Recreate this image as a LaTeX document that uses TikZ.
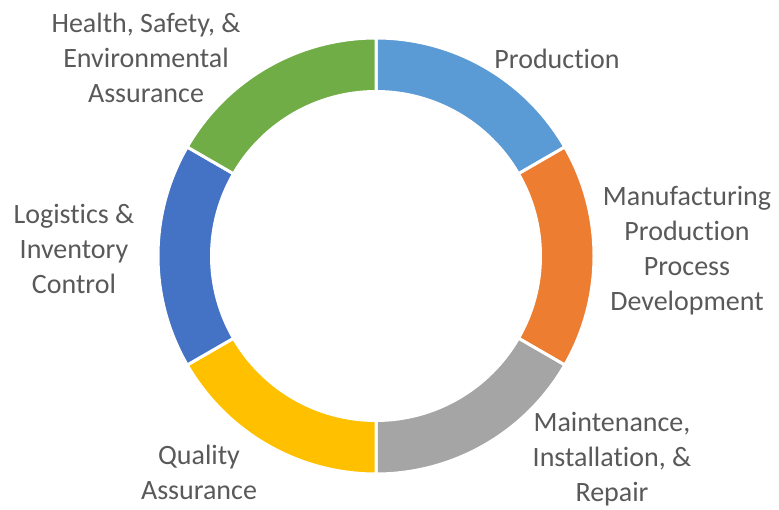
\documentclass[tikz,border=0pt]{standalone}
\usepackage{fontspec}
\setmainfont[Ligatures=NoCommon]{Carlito}
\usepackage{xcolor}
\usetikzlibrary{positioning}
\definecolor{prodblue}{HTML}{5B9BD5}
\definecolor{manforange}{HTML}{ED7D31}
\definecolor{maintgray}{HTML}{A5A5A5}
\definecolor{qualgold}{HTML}{FFC000}
\definecolor{logblue}{HTML}{4472C4}
\definecolor{hsegreen}{HTML}{70AD47}
\definecolor{labelgray}{HTML}{595959}

\begin{document}
\begin{tikzpicture}[
    x=1pt, y=1pt,
    seg/.style={draw=white, line width=3pt, line join=miter},
    lbl/.style={align=center, text=labelgray, inner sep=0pt, font=\fontsize{28}{35}\selectfont}
]
    \useasboundingbox (0,0) rectangle (779,-510);
    \coordinate (c) at (376,-256);

    % ring segments, clockwise from the top
    \path[seg, fill=prodblue] ([shift={(90:218pt)}]c) arc[start angle=90, end angle=30, radius=218pt]
        -- ([shift={(30:164.5pt)}]c) arc[start angle=30, end angle=90, radius=164.5pt] -- cycle;
    \path[seg, fill=manforange] ([shift={(30:218pt)}]c) arc[start angle=30, end angle=-30, radius=218pt]
        -- ([shift={(-30:164.5pt)}]c) arc[start angle=-30, end angle=30, radius=164.5pt] -- cycle;
    \path[seg, fill=maintgray] ([shift={(-30:218pt)}]c) arc[start angle=-30, end angle=-90, radius=218pt]
        -- ([shift={(-90:164.5pt)}]c) arc[start angle=-90, end angle=-30, radius=164.5pt] -- cycle;
    \path[seg, fill=qualgold] ([shift={(-90:218pt)}]c) arc[start angle=-90, end angle=-150, radius=218pt]
        -- ([shift={(-150:164.5pt)}]c) arc[start angle=-150, end angle=-90, radius=164.5pt] -- cycle;
    \path[seg, fill=logblue] ([shift={(-150:218pt)}]c) arc[start angle=-150, end angle=-210, radius=218pt]
        -- ([shift={(150:164.5pt)}]c) arc[start angle=150, end angle=210, radius=164.5pt] -- cycle;
    \path[seg, fill=hsegreen] ([shift={(150:218pt)}]c) arc[start angle=150, end angle=90, radius=218pt]
        -- ([shift={(90:164.5pt)}]c) arc[start angle=90, end angle=150, radius=164.5pt] -- cycle;

    % labels
    \node[lbl] (prod) at (557,-59) {Production};
    \node[lbl] (manuf) at (687,-251) {Manufacturing\\Production\\Process\\Development};
    \node[lbl] (maint) at (612,-459) {Maintenance,\\Installation, \&\\Repair};
    \node[lbl] (quality) at (199,-472) {Quality\\Assurance};
    \node[lbl] (logist) at (74,-249) {Logistics \&\\Inventory\\Control};
    \node[lbl] (hse) at (146,-58) {Health, Safety, \&\\Environmental\\Assurance};
\end{tikzpicture}
\end{document}
